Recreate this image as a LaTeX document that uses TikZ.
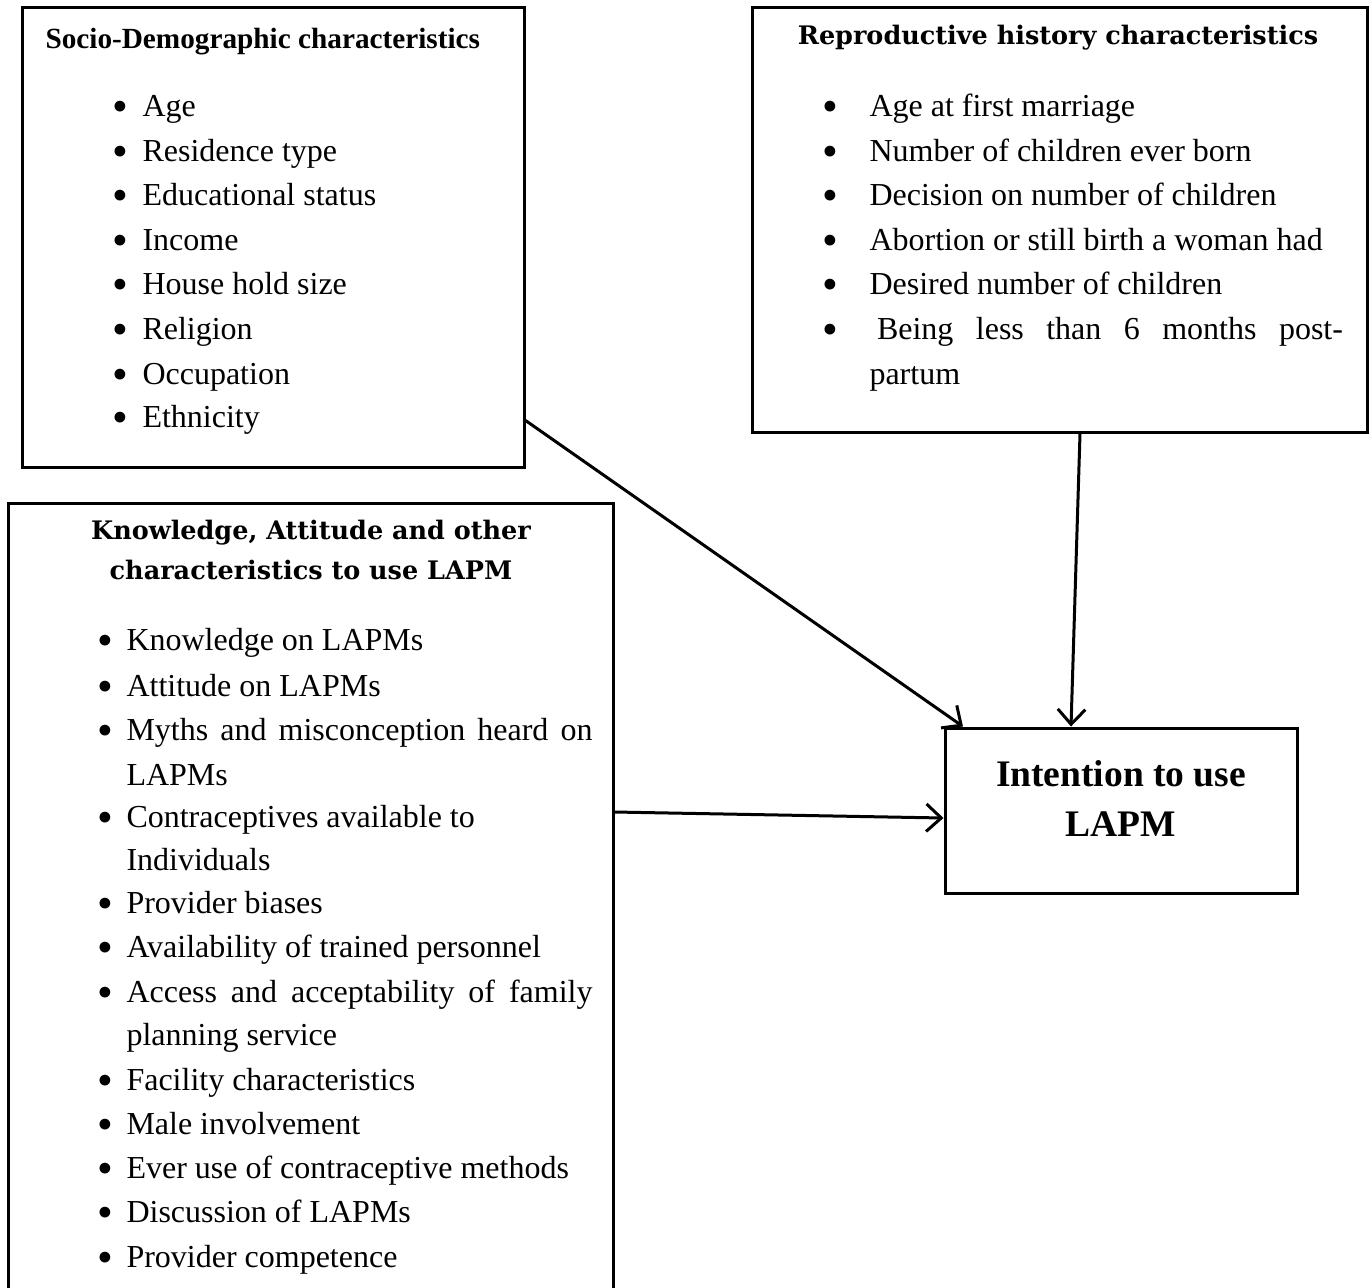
\documentclass[tikz,border=0pt]{standalone}
\usepackage{fontspec}
\setmainfont{Liberation Serif}
\newfontfamily\slabfont{DejaVu Serif}
\usetikzlibrary{arrows.meta,positioning,fit}

\begin{document}
\begin{tikzpicture}[x=0.4pt,y=-0.4pt,
    box/.style={draw, line width=1.2pt, inner sep=0pt},
    itm/.style={anchor=base west, inner sep=0pt, font=\fontsize{12.8}{14}\selectfont,
        execute at begin node={\makebox[#1][l]{\raisebox{-2.2pt}{\fontsize{18}{18}\selectfont\textbullet}}}},
    itm/.default=12pt,
    txt/.style={anchor=base west, inner sep=0pt, font=\fontsize{12.8}{14}\selectfont},
    slab/.style={font=\slabfont\bfseries\fontsize{10.2}{16}\selectfont, align=center},
    link/.style={line width=1.2pt, -{Straight Barb[length=6pt,width=11pt]}}]
                \useasboundingbox (0,0) rectangle (1371,1287);
                % the four boxes
                \node[box, fit={(22,7) (524,467)}] (socio) {};
                \node[box, fit={(752,7) (1367,432)}] (repro) {};
                \node[box, fit={(8,503) (613,1310)}] (know) {};
                \node[box, fit={(945,728) (1297,893)}] (intent) {};
                % socio-demographic
                \node[txt, font=\fontsize{11.7}{14}\selectfont\bfseries] (sochead) at (45,48) {Socio-Demographic characteristics};
                \node[itm] (s1) at (112,116) {Age};
                \node[itm] (s2) at (112,161) {Residence type};
                \node[itm] (s3) at (112,205) {Educational status};
                \node[itm] (s4) at (112,250) {Income};
                \node[itm] (s5) at (112,294) {House hold size};
                \node[itm] (s6) at (112,339) {Religion};
                \node[itm] (s7) at (112,384) {Occupation};
                \node[itm] (s8) at (112,427) {Ethnicity};
                % reproductive history
                \node[slab] (rephead) at (1058,38) {Reproductive history characteristics};
                \node[itm=18.8pt] (r1) at (822,116) {Age at first marriage};
                \node[itm=18.8pt] (r2) at (822,161) {Number of children ever born};
                \node[itm=18.8pt] (r3) at (822,205) {Decision on number of children};
                \node[itm=18.8pt] (r4) at (822,250) {Abortion or still birth a woman had};
                \node[itm=18.8pt] (r5) at (822,294) {Desired number of children};
                \node[itm=18.8pt] (r6) at (822,339) {\hspace{3pt}\makebox[186.4pt][s]{Being less than 6 months post-}};
                \node[txt] (r6b) at (869,384) {partum};
                % knowledge and attitude
                \node[slab] (knowhead) at (311,550) {Knowledge, Attitude and other\\characteristics to use LAPM};
                \node[itm=11.6pt] (k1) at (97,650) {Knowledge on LAPMs};
                \node[itm=11.6pt] (k2) at (97,696) {Attitude on LAPMs};
                \node[itm=11.6pt] (k3) at (97,740) {\makebox[186.4pt][s]{Myths and misconception heard on}};
                \node[txt] (k3b) at (126,785) {LAPMs};
                \node[itm=11.6pt] (k4) at (97,827) {Contraceptives available to};
                \node[txt] (k4b) at (126,870) {Individuals};
                \node[itm=11.6pt] (k5) at (97,913) {Provider biases};
                \node[itm=11.6pt] (k6) at (97,957) {Availability of trained personnel};
                \node[itm=11.6pt] (k7) at (97,1002) {\makebox[186.4pt][s]{Access and acceptability of family}};
                \node[txt] (k7b) at (126,1045) {planning service};
                \node[itm=11.6pt] (k8) at (97,1090) {Facility characteristics};
                \node[itm=11.6pt] (k9) at (97,1134) {Male involvement};
                \node[itm=11.6pt] (k10) at (97,1178) {Ever use of contraceptive methods};
                \node[itm=11.6pt] (k11) at (97,1222) {Discussion of LAPMs};
                \node[itm=11.6pt] (k12) at (97,1267) {Provider competence};
                % outcome
                \node[font=\fontsize{15}{20}\selectfont\bfseries, align=center] (lapm) at (1121,798) {Intention to use\\LAPM};
                % arrows
                \draw[link] (socio.-36) -- (intent.152);
                \draw[link] ([xshift=8.2pt]repro.south) -- ([xshift=-20pt]intent.north);
                \draw[link] ([yshift=37.8pt]know.east) -- ([yshift=-3pt]intent.west);
            \end{tikzpicture}
\end{document}
